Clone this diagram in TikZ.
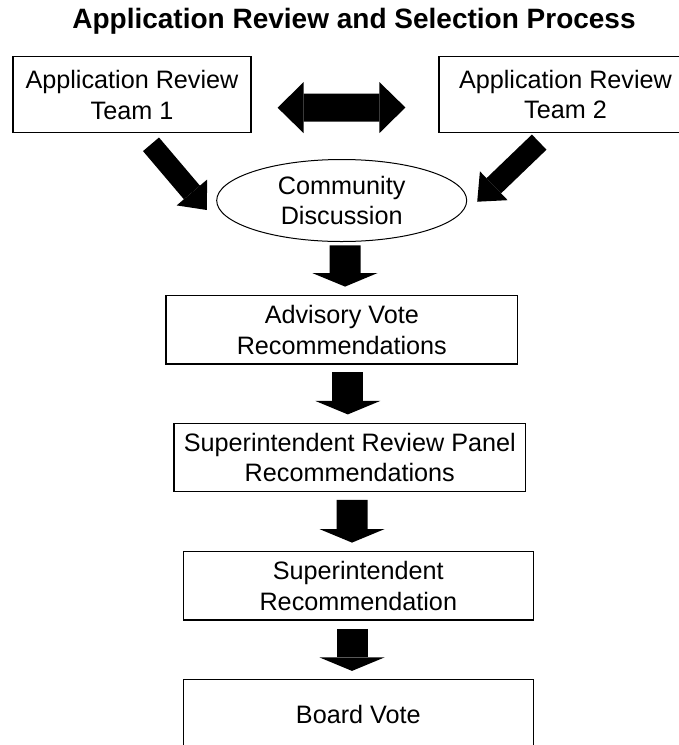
\documentclass[tikz,border=0pt]{standalone}
\usepackage{fontspec}
\setmainfont{Liberation Sans}
\usetikzlibrary{arrows.meta,shapes.geometric}

\begin{document}
\begin{tikzpicture}[x=0.5pt,y=-0.5pt]
\tikzstyle{every node}=[inner sep=0pt, align=center, font=\fontsize{12.6}{15.3}\selectfont]
\tikzstyle{box}=[draw, line width=0.6pt, rectangle, minimum width=175pt, minimum height=34.2pt]
\tikzstyle{bubble}=[draw, line width=0.5pt, ellipse, minimum width=125pt, minimum height=41pt]
\tikzstyle{downarrow}=[line width=15.5pt, -{Triangle[line width=0pt, length=6.75pt, width=32.5pt]}]
\tikzstyle{slantarrow}=[line width=10.5pt, -{Triangle[line width=0pt, length=11.5pt, width=20pt]}]
\tikzstyle{twoarrow}=[line width=14pt, {Triangle[line width=0pt, length=13pt, width=25.5pt]}-{Triangle[line width=0pt, length=13pt, width=25.5pt]}]
\useasboundingbox (0,0) rectangle (679,745);
\clip (0,0) rectangle (679,745);
% title
\draw (354,28.3) node (title) [anchor=base, font=\bfseries\fontsize{14}{17}\selectfont] {Application Review and Selection Process};
% review teams
\draw (132,94.7) node (team1) [box, minimum width=119pt, minimum height=38pt] {Application Review\\Team 1};
\draw (565.5,94.5) node (team2) [box, minimum width=126.5pt, minimum height=38pt] {Application Review\\Team 2};
\draw (341.7,200.5) node (talk) [bubble] {Community\\Discussion};
% the chain
\draw (341.8,329.8) node (advisory) [box, minimum width=175.9pt] {Advisory Vote\\Recommendations};
\draw (349.8,457.5) node (panel) [box, minimum width=175.9pt] {Superintendent Review Panel\\Recommendations};
\draw (358.3,585.8) node (superrec) [box] {Superintendent\\Recommendation};
\draw (358.3,714) node (board) [box] {Board Vote};
% arrows
\draw[twoarrow] ([shift={(26,13)}]team1.east) -- ([shift={(-33,13)}]team2.west);
\draw[slantarrow] ([shift={(19,11)}]team1.south) -- ([shift={(-9.4,9.5)}]talk.west);
\draw[slantarrow] ([shift={(-26.3,9)}]team2.south) -- ([shift={(10,1.2)}]talk.east);
\draw[downarrow] ([shift={(3.3,3.3)}]talk.south) -- ([shift={(3.3,-8.4)}]advisory.north);
\draw[downarrow] ([shift={(6,7.7)}]advisory.south) -- ([shift={(-2,-8.3)}]panel.north);
\draw[downarrow] ([shift={(2.2,7.6)}]panel.south) -- ([shift={(-6.3,-8.4)}]superrec.north);
\draw[downarrow] ([shift={(-6.3,8.3)}]superrec.south) -- ([shift={(-6.3,-8.3)}]board.north);
\end{tikzpicture}
\end{document}
